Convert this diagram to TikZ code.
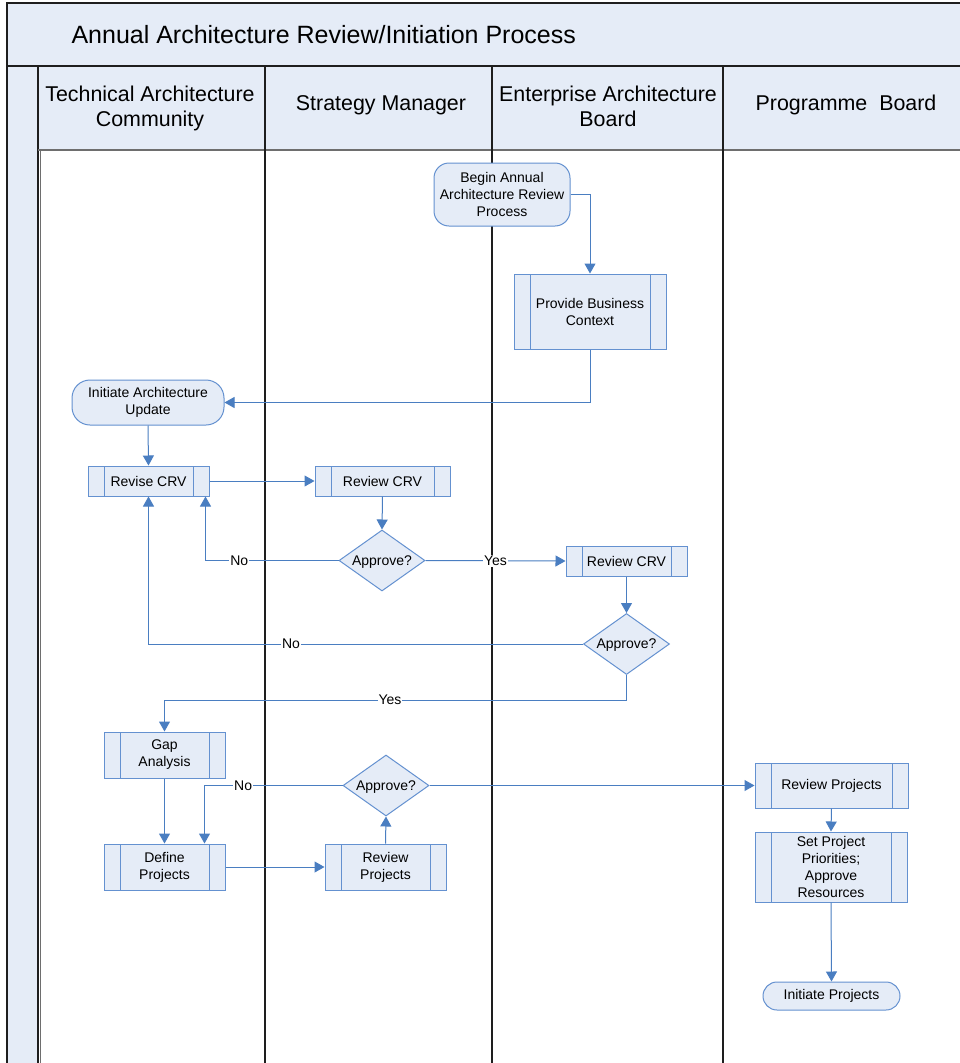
\documentclass[tikz,border=0pt]{standalone}
\usepackage{fontspec}
\setmainfont{Liberation Sans}
\usetikzlibrary{arrows.meta,shapes.geometric,calc}
\definecolor{paleblue}{RGB}{229,236,247}
\definecolor{flowblue}{RGB}{74,126,193}
\definecolor{edgeblue}{RGB}{100,145,208}
\definecolor{laneline}{RGB}{30,30,30}
\definecolor{rulegray}{RGB}{110,110,110}

\begin{document}
\begin{tikzpicture}[x=1pt,y=-1pt,
  txt/.style={font=\fontsize{14}{17}\selectfont, align=center, text=black},
  hdr/.style={font=\fontsize{21.4}{25}\selectfont, align=center, text=black},
  procbox/.style={txt, rectangle, draw=edgeblue, fill=paleblue, line width=1pt, inner sep=0pt,
    path picture={
      \draw[edgeblue, line width=1pt]
        ([xshift=16pt]path picture bounding box.north west) -- ([xshift=16pt]path picture bounding box.south west)
        ([xshift=-16pt]path picture bounding box.north east) -- ([xshift=-16pt]path picture bounding box.south east);}},
  termbox/.style={txt, rectangle, rounded corners=#1, draw=edgeblue, fill=paleblue, line width=1pt, inner sep=0pt},
  decision/.style={txt, diamond, aspect=1.4, draw=edgeblue, fill=paleblue, line width=1pt, inner sep=0pt,
    text depth=0pt, minimum width=86pt, minimum height=61pt},
  flow/.style={draw=flowblue, line width=1pt, -{Triangle[length=10pt,width=11pt]}},
  lbl/.style={txt, fill=white, inner sep=1pt}
]
\useasboundingbox (0,0) rectangle (960,1063);
\clip (0,0) rectangle (960,1063);

% pool frame: title band, left strip and lane headers
\fill[white] (0,0) rectangle (960,1063);
\draw[laneline, line width=1.5pt, fill=paleblue] (7,3) rectangle (975,66);
\draw[laneline, line width=1.5pt, fill=paleblue] (7,66) rectangle (38,1075);
\draw[laneline, line width=1.2pt, fill=paleblue] (38,66) rectangle (975,150);
\draw[rulegray, line width=1.5pt] (38,150) -- (975,150);
\draw[rulegray, line width=0.6pt] (40.5,150) -- (40.5,1075);
\foreach \lx in {265,492,723}
  \draw[laneline, line width=1.3pt] (\lx,66) -- (\lx,1075);

\node[font=\fontsize{25}{30}\selectfont, anchor=west, text=black] (title) at (68,35) {Annual Architecture Review/Initiation Process};
\node[hdr] (laneTAC) at (150,108) {Technical Architecture\\Community};
\node[hdr] (laneSM)  at (381,105) {Strategy Manager};
\node[hdr] (laneEAB) at (608,106) {Enterprise Architecture\\Board};
\node[hdr] (lanePB)  at (846,105) {Programme\ \ Board};

% process steps
\node[termbox=15pt, minimum width=136pt, minimum height=63pt] (begin) at (502,194.5) {Begin Annual\\Architecture Review\\Process};
\node[procbox, minimum width=152pt, minimum height=75pt] (context) at (590,311.5) {Provide Business\\Context};
\node[termbox=18pt, minimum width=152pt, minimum height=45pt] (initarch) at (148,402.5) {Initiate Architecture\\Update};
\node[procbox, minimum width=121pt, minimum height=30pt] (revise) at (148.5,481) {Revise CRV};
\node[procbox, minimum width=135pt, minimum height=30pt] (crvsm) at (382.5,481) {Review CRV};
\node[decision] (apsm) at (382,560.5) {Approve?};
\node[procbox, minimum width=121pt, minimum height=30pt] (crveab) at (626.5,561) {Review CRV};
\node[decision] (apeab) at (626.5,644) {Approve?};
\node[procbox, minimum width=121pt, minimum height=46pt] (gap) at (164.5,755) {Gap\\Analysis};
\node[procbox, minimum width=121pt, minimum height=46pt] (define) at (164.5,867) {Define\\Projects};
\node[procbox, minimum width=121pt, minimum height=46pt] (projsm) at (385.5,867) {Review\\Projects};
\node[decision] (approj) at (386,785.5) {Approve?};
\node[procbox, minimum width=153pt, minimum height=45pt] (projpb) at (831.5,785.5) {Review Projects};
\node[procbox, minimum width=152pt, minimum height=70pt] (prio) at (831,867) {Set Project\\Priorities;\\Approve\\Resources};
\node[termbox=14pt, minimum width=137pt, minimum height=28pt] (initproj) at (831.5,996) {Initiate Projects};

% connectors
\draw[flow] (begin.east) -| (context.north);
\draw[flow] (context.south) |- (initarch.east);
\draw[flow] (initarch.south) -- (revise.north);
\draw[flow] (revise.east) -- (crvsm.west);
\draw[flow] (crvsm.south) -- (apsm.north);
\draw[flow] (apsm.west) -| node[lbl, pos=0.373] {No} ($(revise.south east)+(-4,0)$);
\draw[flow] (apsm.east) -- node[lbl, pos=0.5] {Yes} (crveab.west);
\draw[flow] (crveab.south) -- (apeab.north);
\draw[flow] (apeab.west) -| node[lbl, pos=0.336] {No} (revise.south);
\draw[flow] (apeab.south) -- ++(0,25) -| node[lbl, pos=0.256] {Yes} (gap.north);
\draw[flow] (gap.south) -- (define.north);
\draw[flow] (define.east) -- (projsm.west);
\draw[flow] (projsm.north) -- (approj.south);
\draw[flow] (approj.west) -| node[lbl, pos=0.36] {No} ($(define.north east)+(-21,0)$);
\draw[flow] (approj.east) -- (projpb.west);
\draw[flow] (projpb.south) -- (prio.north);
\draw[flow] (prio.south) -- (initproj.north);
\end{tikzpicture}
\end{document}
